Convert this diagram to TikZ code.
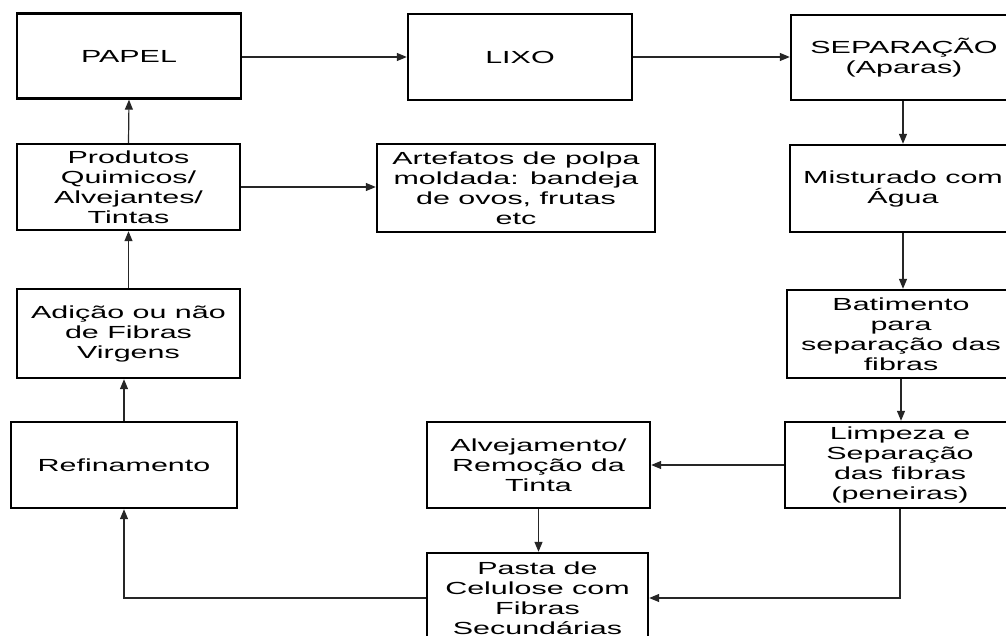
\documentclass[tikz,border=0pt]{standalone}
\usepackage{fontspec}
\setmainfont{Liberation Sans}[FakeStretch=1.74]
\usetikzlibrary{arrows.meta}
\begin{document}
\begin{tikzpicture}[x=1pt,y=-1pt,
  box/.style={draw=black, line width=2.4pt, fill=white, inner sep=0pt, align=center,
    font=\fontsize{17.5}{20}\selectfont},
  arr/.style={draw=black!85, line width=1.2pt, -{Triangle[length=10pt,width=8pt]}}]
\useasboundingbox (0,0) rectangle (1006,636);
\fill[white] (0,0) rectangle (1006,636);
\clip (0,0) rectangle (1006,636);
% top row
\node[box, minimum width=224pt, minimum height=85pt] (papel) at (129,56) {PAPEL};
\node[box, minimum width=224pt, minimum height=86pt] (lixo) at (520,57) {LIXO};
\node[box, minimum width=226pt, minimum height=85pt] (sep) at (904,57.5) {SEPARAÇÃO\\(Aparas)};
% second row
\node[box, minimum width=223pt, minimum height=86pt] (prod) at (128.5,187) {Produtos\\Quimicos/\\Alvejantes/\\Tintas};
\node[box, minimum width=278pt, minimum height=88pt] (art) at (516,188) {Artefatos de polpa\\moldada: bandeja\\de ovos, frutas\\etc};
\node[box, minimum width=226pt, minimum height=87pt] (mist) at (903,188.5) {Misturado com\\Água};
% third row
\node[box, minimum width=223pt, minimum height=89pt] (adic) at (128.5,333.5) {Adição ou não\\de Fibras\\Virgens};
\node[box, minimum width=228pt, minimum height=88pt] (bat) at (901,334) {Batimento\\para\\separação das\\fibras};
% fourth row
\node[box, minimum width=226pt, minimum height=86pt] (ref) at (124,465) {Refinamento};
\node[box, minimum width=223pt, minimum height=86pt] (alv) at (538.5,465) {Alvejamento/\\Remoção da\\Tinta};
\node[box, minimum width=230pt, minimum height=86pt] (limp) at (900,465) {Limpeza e\\Separação\\das fibras\\(peneiras)};
% bottom
\node[box, minimum width=221pt, minimum height=90pt] (pasta) at (537.5,598) {Pasta de\\Celulose com\\Fibras\\Secundárias};
% connectors
\draw[arr] (papel.east |- lixo.west) -- (lixo.west);
\draw[arr] (lixo.east) -- (sep.west |- lixo.east);
\draw[arr] (prod.north) -- (papel.south);
\draw[arr] (adic.north) -- (prod.south);
\draw[arr] (ref.north) -- (ref.north |- adic.south);
\draw[arr] (prod.east) -- (art.west |- prod.east);
\draw[arr] (sep.south -| mist.north) -- (mist.north);
\draw[arr] (mist.south) -- (bat.north -| mist.south);
\draw[arr] (bat.south) -- (limp.north -| bat.south);
\draw[arr] (limp.west) -- (alv.east);
\draw[arr] (limp.south) |- (pasta.east);
\draw[arr] (alv.south) -- (pasta.north -| alv.south);
\draw[arr] (pasta.west) -| (ref.south);
\end{tikzpicture}
\end{document}
